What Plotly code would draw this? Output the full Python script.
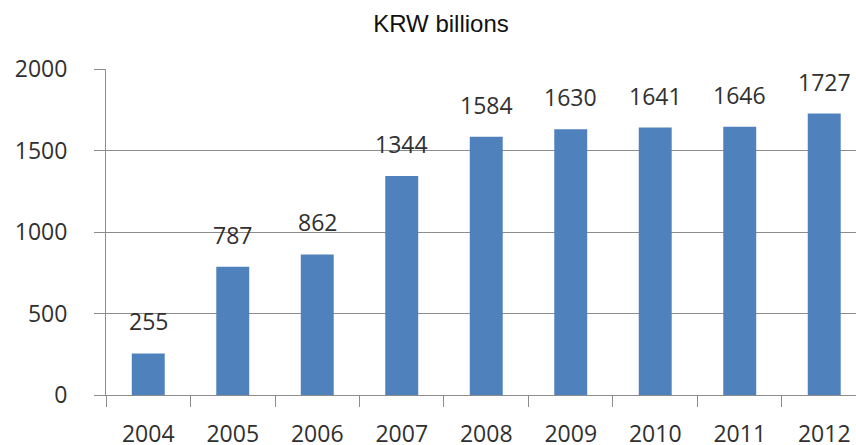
import plotly.graph_objects as go

years = ["2004", "2005", "2006", "2007", "2008", "2009", "2010", "2011", "2012"]
values = [255, 787, 862, 1344, 1584, 1630, 1641, 1646, 1727]
y_ticks = [0, 500, 1000, 1500, 2000]
title_text = "KRW billions"

bar_color = "#4F81BD"
grid_color = "#8c8c8c"
text_color = "#303030"
font_family = "Open Sans"

fig = go.Figure()
fig.add_trace(go.Bar(
    x=years, y=values, marker=dict(color=bar_color, line=dict(width=0)),
    width=0.39, hoverinfo="x+y",
))

# annotations on a category axis are placed by category index
for i, v in enumerate(values):
    fig.add_annotation(
        x=i, y=v, text=str(v), showarrow=False, xref="x", yref="y",
        yanchor="bottom", yshift=14,
        font=dict(family=font_family, size=23, color=text_color),
    )

fig.update_layout(
    width=856, height=445,
    margin=dict(l=106, r=0, t=69, b=50, autoexpand=False),
    paper_bgcolor="white", plot_bgcolor="white",
    showlegend=False,
    title=dict(
        text=title_text, x=441 / 856, xanchor="center",
        y=1 - 23.5 / 445, yanchor="middle", yref="container",
        font=dict(family="Liberation Sans, Arial", size=24, color="#111111"),
    ),
    xaxis=dict(
        type="category", range=[-0.5, 8.376], automargin=False,
        showline=True, linecolor=grid_color, linewidth=1,
        ticks="outside", tickson="boundaries", ticklen=11,
        tickcolor=grid_color, tickwidth=1,
        ticklabelstandoff=18,
        tickfont=dict(family=font_family, size=23, color=text_color),
        showgrid=False, zeroline=False,
    ),
    yaxis=dict(
        range=[0, 2000], tickvals=y_ticks, automargin=False,
        showline=True, linecolor=grid_color, linewidth=1,
        ticks="outside", ticklen=11, tickcolor=grid_color, tickwidth=1,
        ticklabelstandoff=22,
        showgrid=True, gridcolor=grid_color, gridwidth=1,
        zeroline=False,
        tickfont=dict(family=font_family, size=23, color=text_color),
    ),
)

fig.write_html(
    "out.html",
    config={"displayModeBar": False},
    post_script="document.body.style.margin='0';document.body.style.overflow='hidden';",
)
